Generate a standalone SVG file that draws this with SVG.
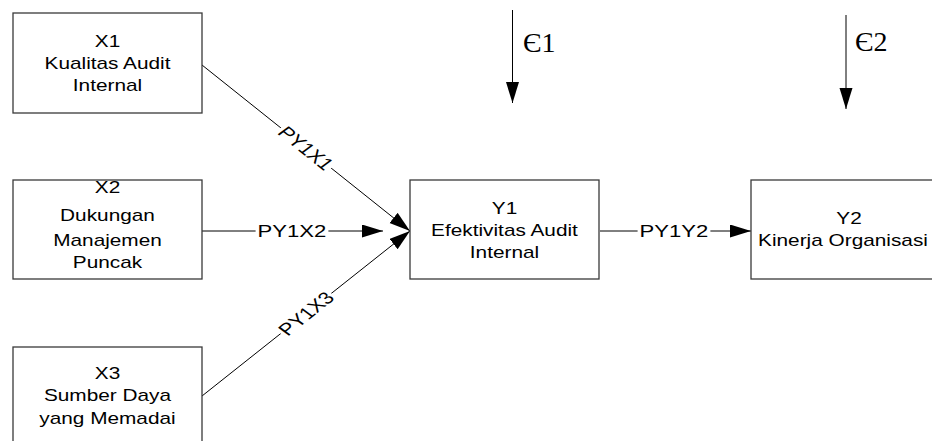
<svg xmlns="http://www.w3.org/2000/svg" width="932" height="441" viewBox="0 0 932 441">
  <defs>
    <style>
      .box { fill: #ffffff; stroke: #3a3a3a; stroke-width: 1.3; }
      .t { font-family: "Liberation Sans", Arial, sans-serif; font-size: 16px; fill: #000000; text-anchor: middle; }
      .lbl { font-family: "Liberation Sans", Arial, sans-serif; font-size: 17px; fill: #000000; text-anchor: middle; }
      .eps { font-family: "Liberation Serif", "Times New Roman", serif; font-size: 28px; fill: #000000; }
      .ln { stroke: #000000; stroke-width: 1; fill: none; }
      .gap { fill: #ffffff; stroke: none; }
    </style>
    <marker id="ah" markerUnits="userSpaceOnUse" markerWidth="22" markerHeight="14" refX="21" refY="6.5" orient="auto">
      <path d="M0,0 L21,6.5 L0,13 z" fill="#000000"/>
    </marker>
  </defs>
  <rect width="932" height="441" fill="#ffffff"/>

  <g id="connectors">
    <line class="ln" x1="202" y1="65" x2="410" y2="231" marker-end="url(#ah)"/>
    <line class="ln" x1="202" y1="231" x2="383" y2="231" marker-end="url(#ah)"/>
    <line class="ln" x1="202" y1="396" x2="410" y2="231" marker-end="url(#ah)"/>
    <line class="ln" x1="600" y1="231" x2="751" y2="231" marker-end="url(#ah)"/>
    <line class="ln" x1="512.5" y1="10" x2="512.5" y2="103" marker-end="url(#ah)"/>
    <line class="ln" x1="846" y1="15" x2="846" y2="109" marker-end="url(#ah)"/>

    <g transform="translate(306,148) scale(1.3,1) rotate(46)">
      <rect class="gap" x="-28" y="-6" width="56" height="12"/>
      <text class="lbl" x="0" y="6">PY1X1</text>
    </g>
    <g transform="translate(292,231) scale(1.3,1)">
      <rect class="gap" x="-28" y="-6" width="56" height="12"/>
      <text class="lbl" x="0" y="6">PY1X2</text>
    </g>
    <g transform="translate(306,313.5) scale(1.3,1) rotate(-46)">
      <rect class="gap" x="-28" y="-6" width="56" height="12"/>
      <text class="lbl" x="0" y="6">PY1X3</text>
    </g>
    <g transform="translate(674,231) scale(1.3,1)">
      <rect class="gap" x="-28" y="-6" width="56" height="12"/>
      <text class="lbl" x="0" y="6">PY1Y2</text>
    </g>
    <text class="eps" x="523" y="52">Є1</text>
    <text class="eps" x="855" y="51">Є2</text>
  </g>

  <g id="X1">
    <rect class="box" x="13" y="13" width="189" height="100"/>
    <text class="t" transform="translate(107.5,47) scale(1.3,1)">X1</text>
    <text class="t" transform="translate(107.5,68.5) scale(1.3,1)">Kualitas Audit</text>
    <text class="t" transform="translate(107.5,90.5) scale(1.3,1)">Internal</text>
  </g>

  <g id="X2">
    <rect class="box" x="13" y="180" width="189" height="99"/>
    <text class="t" transform="translate(107.5,193) scale(1.3,1)">X2</text>
    <text class="t" transform="translate(107.5,221) scale(1.3,1)">Dukungan</text>
    <text class="t" transform="translate(107.5,246) scale(1.3,1)">Manajemen</text>
    <text class="t" transform="translate(107.5,268) scale(1.3,1)">Puncak</text>
  </g>

  <g id="X3">
    <rect class="box" x="13" y="347" width="189" height="110"/>
    <text class="t" transform="translate(107.5,379) scale(1.3,1)">X3</text>
    <text class="t" transform="translate(107.5,401) scale(1.3,1)">Sumber Daya</text>
    <text class="t" transform="translate(107.5,423.5) scale(1.3,1)">yang Memadai</text>
  </g>

  <g id="Y1">
    <rect class="box" x="410" y="180" width="189" height="99"/>
    <text class="t" transform="translate(504.5,213.5) scale(1.3,1)">Y1</text>
    <text class="t" transform="translate(504.5,235.5) scale(1.3,1)">Efektivitas Audit</text>
    <text class="t" transform="translate(504.5,257.5) scale(1.3,1)">Internal</text>
  </g>

  <g id="Y2">
    <rect class="box" x="751" y="180" width="200" height="99"/>
    <text class="t" transform="translate(849,224) scale(1.3,1)">Y2</text>
    <text class="t" transform="translate(843,246) scale(1.3,1)">Kinerja Organisasi</text>
  </g>
</svg>
